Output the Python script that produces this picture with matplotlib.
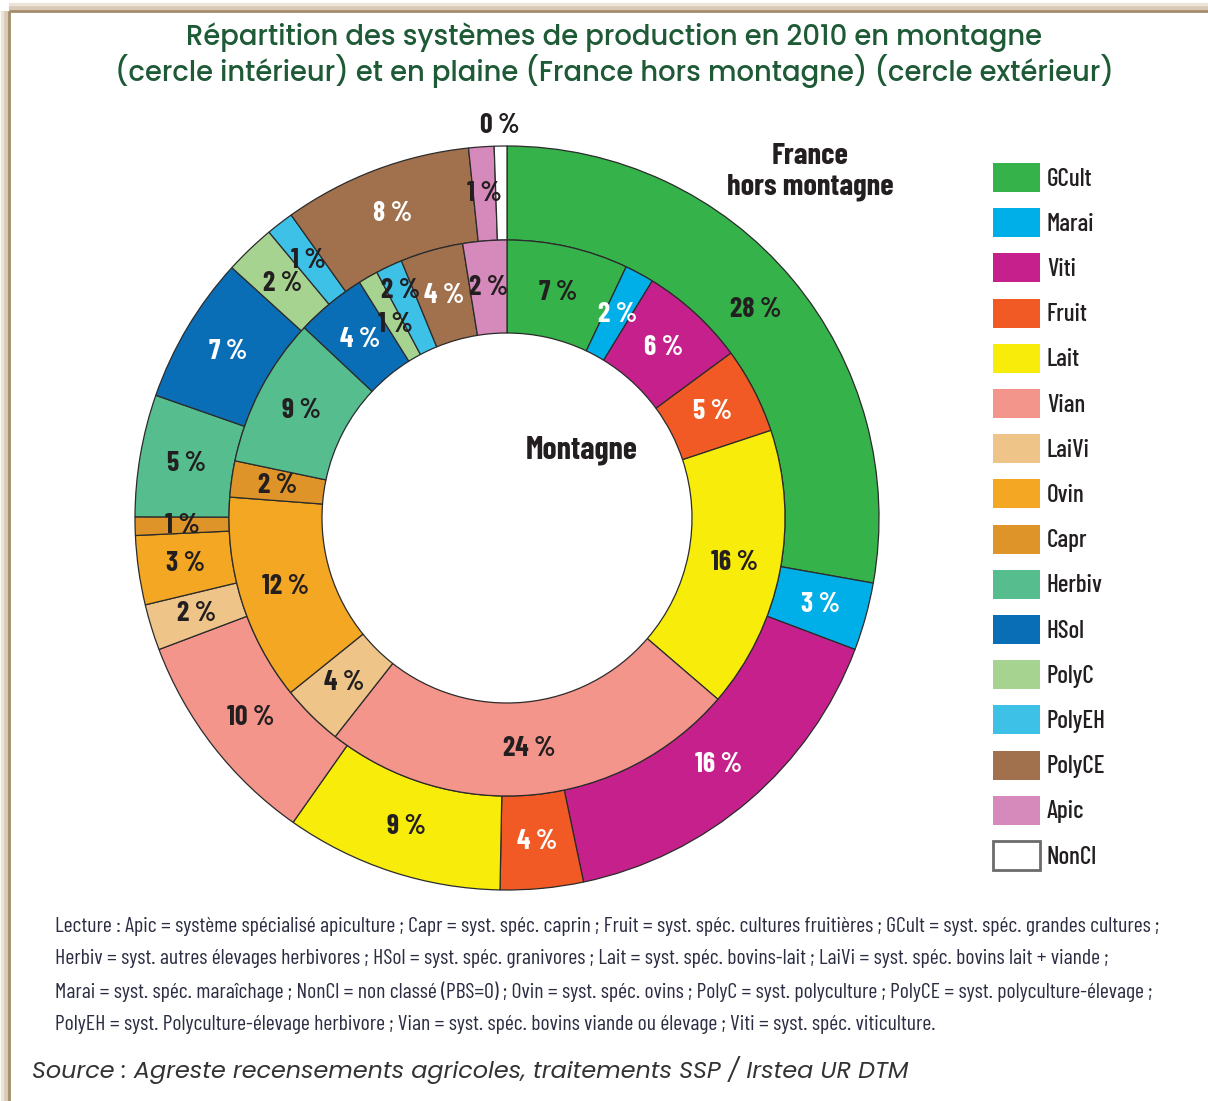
import numpy as np
import matplotlib
matplotlib.use('Agg')
import matplotlib.pyplot as plt
from matplotlib.patches import Rectangle

# --- data (shares in %, clockwise from 12 o'clock) ---
categories = ['GCult', 'Marai', 'Viti', 'Fruit', 'Lait', 'Vian', 'LaiVi', 'Ovin',
              'Capr', 'Herbiv', 'HSol', 'PolyC', 'PolyEH', 'PolyCE', 'Apic', 'NonCl']
colors = ['#35b24a', '#00aee8', '#c6208c', '#f15a24', '#f8ec0a', '#f4958b', '#eec488',
          '#f3a723', '#de9428', '#55bd8e', '#0a6eb7', '#a6d490', '#3ec1e6', '#a0714c',
          '#d68abb', '#ffffff']

# outer ring: France hors montagne
plaine = [27.8, 2.95, 15.95, 3.6, 9.45, 9.5, 2.0, 3.0, 0.8, 5.3, 6.4, 2.2, 1.2, 8.2, 1.1, 0.55]
plaine_labels = ['28 %', '3 %', '16 %', '4 %', '9 %', '10 %', '2 %', '3 %', '1 %', '5 %',
                 '7 %', '2 %', '1 %', '8 %', '1 %', '0 %']

# inner ring: montagne (no NonCl)
montagne = [7.05, 1.7, 6.15, 5.0, 16.4, 24.3, 3.6, 12.0, 2.1, 8.7, 4.1, 1.15, 1.55, 3.65, 2.55, 0]
montagne_labels = ['7 %', '2 %', '6 %', '5 %', '16 %', '24 %', '4 %', '12 %', '2 %', '9 %',
                   '4 %', '1 %', '2 %', '4 %', '2 %', '']

white_text = {'Marai', 'Viti', 'Fruit', 'HSol', 'PolyCE'}

title = ("Répartition des systèmes de production en 2010 en montagne\n"
         "(cercle intérieur) et en plaine (France hors montagne) (cercle extérieur)")
lecture = [
    "Lecture : Apic = système spécialisé apiculture ; Capr = syst. spéc. caprin ; Fruit = syst. spéc. cultures fruitières ; GCult = syst. spéc. grandes cultures ;",
    "Herbiv = syst. autres élevages herbivores ; HSol = syst. spéc. granivores ; Lait = syst. spéc. bovins-lait ; LaiVi = syst. spéc. bovins lait + viande ;",
    "Marai = syst. spéc. maraîchage ; NonCl = non classé (PBS=0) ; Ovin = syst. spéc. ovins ; PolyC = syst. polyculture ; PolyCE = syst. polyculture-élevage ;",
    "PolyEH = syst. Polyculture-élevage herbivore ; Vian = syst. spéc. bovins viande ou élevage ; Viti = syst. spéc. viticulture.",
]
source = "Source : Agreste recensements agricoles, traitements SSP / Irstea UR DTM"

NARROW = ['Barlow Condensed', 'DejaVu Sans']
WIDE = ['Poppins', 'DejaVu Sans']
DARK = '#231f20'

W, H = 1208, 1101
fig = plt.figure(figsize=(W / 100, H / 100), dpi=100)
fig.patch.set_facecolor('white')

# background axes in pixel coordinates
bg = fig.add_axes([0, 0, 1, 1])
bg.set_xlim(0, W)
bg.set_ylim(H, 0)
bg.axis('off')

# frame (left and top edges, tan with soft shadow)
for off, lw, c in [(4, 6, '#ece4d8'), (2, 4, '#d8cab6'), (0, 2, '#a58c6c')]:
    bg.plot([9 - off, 9 - off], [11, H], color=c, lw=lw, solid_capstyle='butt')
    bg.plot([9, W], [11 - off, 11 - off], color=c, lw=lw, solid_capstyle='butt')

bg.text(614, 55, title, ha='center', va='center', fontsize=19.8, color='#1e5a36',
        family=WIDE, fontweight='medium', linespacing=1.1)

# --- donut ---
cx, cy, R = 507, 518, 372
r_mid, r_in = 278 / R, 185 / R
ax = fig.add_axes([(cx - R) / W, (H - cy - R) / H, 2 * R / W, 2 * R / H])


def ring(values, labels, radius, width, overrides):
    vals = np.array(values, dtype=float)
    keep = vals > 0
    wedges, _ = ax.pie(vals[keep], colors=np.array(colors)[keep], radius=radius,
                       startangle=90, counterclock=False,
                       wedgeprops=dict(width=width, edgecolor='#2b2b2b', linewidth=0.9))
    for w in wedges:
        w.set_clip_on(False)
    frac = vals / vals.sum()
    mids = np.cumsum(frac) - frac / 2
    for i, (m, lab) in enumerate(zip(mids, labels)):
        if not lab:
            continue
        r = overrides.get(i, radius - width / 2)
        ang = np.deg2rad(90 - 360 * m)
        col = 'white' if categories[i] in white_text else DARK
        ax.text(r * np.cos(ang), r * np.sin(ang), lab, ha='center', va='center',
                fontsize=20, fontweight='bold', color=col, family=NARROW)


ring(plaine, plaine_labels, 1.0, 1 - r_mid, {15: 1.055})
ring(montagne, montagne_labels, r_mid, r_mid - r_in, {11: 0.6, 12: 0.675})
ax.set_xlim(-1, 1)
ax.set_ylim(-1, 1)
ax.set_aspect('equal')
ax.axis('off')

bg.text(582, 450, 'Montagne', ha='center', va='center', fontsize=23, fontweight='bold',
        color=DARK, family=NARROW)
bg.text(810, 172, 'France\nhors montagne', ha='center', va='center', fontsize=22,
        fontweight='bold', color=DARK, family=NARROW, linespacing=1.12,
        bbox=dict(facecolor='white', edgecolor='none', pad=2))

# --- legend ---
for i, (name, c) in enumerate(zip(categories, colors)):
    y = 163 + i * 45.2
    ec = '#6b6b6b' if name == 'NonCl' else 'none'
    bg.add_patch(Rectangle((993, y), 47, 29, facecolor=c, edgecolor=ec, lw=2))
    bg.text(1047, y + 16, name, ha='left', va='center', fontsize=18, color=DARK,
            family=NARROW, fontweight='medium')

# --- notes ---
for i, line in enumerate(lecture):
    bg.text(55, 926 + i * 32.7, line, ha='left', va='center', fontsize=15.7,
            color='#2b2d42', family=NARROW)
bg.text(32, 1070, source, ha='left', va='center', fontsize=17.2, style='italic',
        color='#333333', family=WIDE)

fig.savefig('out.png', dpi=100)
